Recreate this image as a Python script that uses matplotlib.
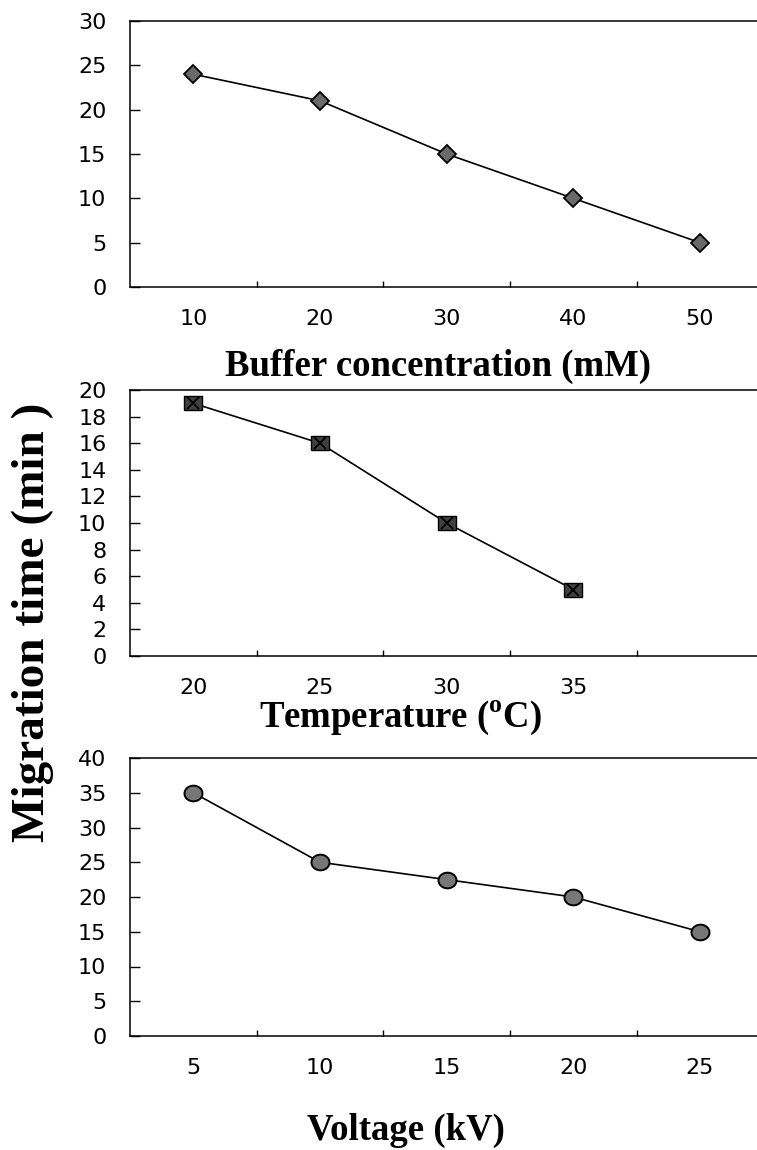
import numpy as np
import matplotlib.pyplot as plt

# data
buffer_mM = ['10', '20', '30', '40', '50']
time_buffer = [24, 21, 15, 10, 5]

temp_C = ['20', '25', '30', '35']
time_temp = [19, 16, 10, 5]

voltage_kV = ['5', '10', '15', '20', '25']
time_voltage = [35, 25, 22.5, 20, 15]

plt.rcParams['font.family'] = 'DejaVu Sans'
plt.rcParams['mathtext.fontset'] = 'custom'
plt.rcParams['mathtext.rm'] = 'Liberation Serif:bold'
plt.rcParams['mathtext.bf'] = 'Liberation Serif:bold'

fig = plt.figure(figsize=(7.57, 11.5), dpi=100)

H = 1150.0
W = 757.0
left = 130 / W


def make_ax(top_px, bottom_px):
    return fig.add_axes([left, 1 - bottom_px / H, 1 - left, (bottom_px - top_px) / H])


def style(ax, labels, ymax, ystep):
    n_slots = 5
    ax.set_xlim(-0.5, n_slots - 0.55)
    ax.set_ylim(0, ymax)
    ax.set_yticks(np.arange(0, ymax + 0.1, ystep))
    labs = list(labels) + [''] * (n_slots - len(labels))
    ax.set_xticks(range(n_slots))
    ax.set_xticklabels(labs)
    ax.set_xticks(np.arange(0.5, n_slots - 1, 1), minor=True)
    ax.tick_params(axis='x', which='major', length=0, pad=16, labelsize=16)
    ax.tick_params(axis='x', which='minor', direction='in', length=4.5, width=1.0)
    ax.tick_params(axis='y', direction='in', length=7, width=1.0, pad=17, labelsize=16)
    ax.spines['right'].set_visible(False)
    for s in ['left', 'bottom', 'top']:
        ax.spines[s].set_linewidth(1.1)


# panel 1: buffer concentration
ax1 = make_ax(21, 287)
x1 = np.arange(len(buffer_mM))
ax1.plot(x1, time_buffer, color='black', linewidth=1.2, marker='D', markersize=9.5,
         markerfacecolor='#6a6a6a', markeredgecolor='black', markeredgewidth=1.3)
style(ax1, buffer_mM, 30, 5)

# panel 2: temperature
ax2 = make_ax(390, 656)
x2 = np.arange(len(temp_C))
rect = [(-1.35, -1), (1.35, -1), (1.35, 1), (-1.35, 1), (-1.35, -1)]
ax2.plot(x2, time_temp, color='black', linewidth=1.2, marker=rect, markersize=13,
         markerfacecolor='#404040', markeredgecolor='black', markeredgewidth=1.0)
ax2.plot(x2, time_temp, linestyle='none', marker='x', markersize=9,
         markeredgecolor='black', markeredgewidth=1.3)
style(ax2, temp_C, 20, 2)

# panel 3: voltage
ax3 = make_ax(758, 1036)
x3 = np.arange(len(voltage_kV))
t = np.linspace(0, 2 * np.pi, 40)
ellipse = list(zip(1.15 * np.cos(t), np.sin(t)))
ax3.plot(x3, time_voltage, color='black', linewidth=1.2, marker=ellipse, markersize=13,
         markerfacecolor='#777777', markeredgecolor='black', markeredgewidth=1.4)
style(ax3, voltage_kV, 40, 5)

serif = dict(family='Liberation Serif', weight='bold')
fig.text(438 / W, 1 - 366 / H, 'Buffer concentration (mM)', ha='center', va='center',
         fontsize=26.5, **serif)
fig.text(401 / W, 1 - 718 / H, r'Temperature ($^{\mathrm{o}}$C)', ha='center', va='center',
         fontsize=26.5, **serif)
fig.text(406 / W, 1 - 1130 / H, 'Voltage (kV)', ha='center', va='center',
         fontsize=26.5, **serif)
fig.text(33 / W, 1 - 622 / H, 'Migration time (min )', ha='center', va='center',
         rotation=90, fontsize=34, **serif)

fig.savefig('out.png', dpi=100)
